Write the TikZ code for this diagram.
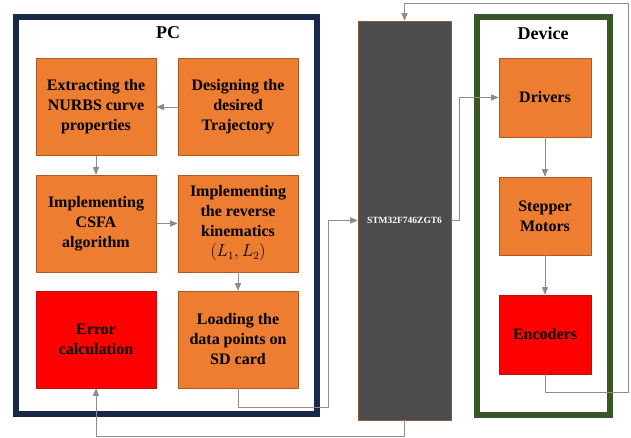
\documentclass[tikz,border=0pt]{standalone}
\usepackage{fontspec}
\setmainfont{Liberation Serif}
\usetikzlibrary{arrows}
\definecolor{ffwwtt}{rgb}{0.93,0.49,0.19}
\definecolor{cczzqq}{rgb}{0.68,0.35,0.13}
\definecolor{ffqqqq}{rgb}{1,0,0}
\definecolor{ccqqqq}{rgb}{0.75,0.05,0.05}
\definecolor{wwwwww}{rgb}{0.3,0.3,0.3}
\definecolor{zzwwtt}{rgb}{0.55,0.35,0.25}
\definecolor{qqttww}{rgb}{0.1,0.16,0.3}
\definecolor{ttwwqq}{rgb}{0.22,0.34,0.14}
\definecolor{zzzzzz}{rgb}{0.55,0.55,0.55}
\tikzset{
  blockbox/.style={draw=cczzqq,fill=ffwwtt,line width=0.8pt,minimum width=120,minimum height=97,inner sep=0pt,align=center,font=\fontsize{16}{20}\selectfont\bfseries},
  redbox/.style={blockbox,draw=ccqqqq,fill=ffqqqq},
  devbox/.style={blockbox,minimum width=92,minimum height=79},
  conn/.style={draw=zzzzzz,line width=0.7pt}
}
\begin{document}
\begin{tikzpicture}[line cap=round,line join=round,>=triangle 45,x=1pt,y=-1pt]
\useasboundingbox (0,0) rectangle (631,438);
% frames
\draw [line width=6pt,color=qqttww,line cap=butt,line join=miter] (16,17) rectangle (317,414);
\draw [line width=6pt,color=ttwwqq,line cap=butt,line join=miter] (477,17) rectangle (610,415);
\node (pc) at (168,33) {\fontsize{18}{20}\selectfont\bfseries PC};
\node (device) at (543,33) {\fontsize{18}{20}\selectfont\bfseries Device};
% PC blocks
\node [blockbox] (extract) at (96,107) {Extracting the\\NURBS curve\\properties};
\node [blockbox] (design) at (238,107) {Designing the\\desired\\Trajectory};
\node [blockbox] (csfa) at (96,223.5) {Implementing\\CSFA\\algorithm};
\node [blockbox] (reverse) at (238,223.5) {Implementing\\the reverse\\kinematics\\$(L_1,L_2)$};
\node [redbox] (error) at (96,339.5) {Error\\calculation};
\node [blockbox] (loading) at (238,339.5) {Loading the\\data points on\\SD card};
% board
\node [draw=zzwwtt,fill=wwwwww,line width=0.8pt,minimum width=93,minimum height=399,inner sep=0pt,text=white,font=\fontsize{9.5}{11}\selectfont\bfseries] (stm) at (404.5,220.5) {STM32F746ZGT6};
% device blocks
\node [devbox] (drivers) at (545,97.5) {Drivers};
\node [devbox,minimum height=78] (stepper) at (545,216) {Stepper\\Motors};
\node [devbox,redbox,minimum width=92,minimum height=79] (encoders) at (545,334.5) {Encoders};
% bends
\coordinate (b1) at (328,407);
\coordinate (b2) at (628,392);
\coordinate (b3) at (628,3);
\coordinate (b4) at (96,436);
% connectors
\draw [conn,->] (design.west) -- (extract.east);
\draw [conn,->] (extract.south) -- (csfa.north);
\draw [conn,->] (csfa.east) -- (reverse.west);
\draw [conn,->] (reverse.south) -- (loading.north);
\draw [conn,->] (loading.south) |- (b1) |- (stm.west);
\draw [conn,->] (stm.east) -- ++(8,0) |- (drivers.west);
\draw [conn,->] (drivers.south) -- (stepper.north);
\draw [conn,->] (stepper.south) -- (encoders.north);
\draw [conn,->] (encoders.south) |- (b2) -- (b3) -| (stm.north);
\draw [conn,->] (stm.south) |- (b4) -- (error.south);
\end{tikzpicture}
\end{document}
